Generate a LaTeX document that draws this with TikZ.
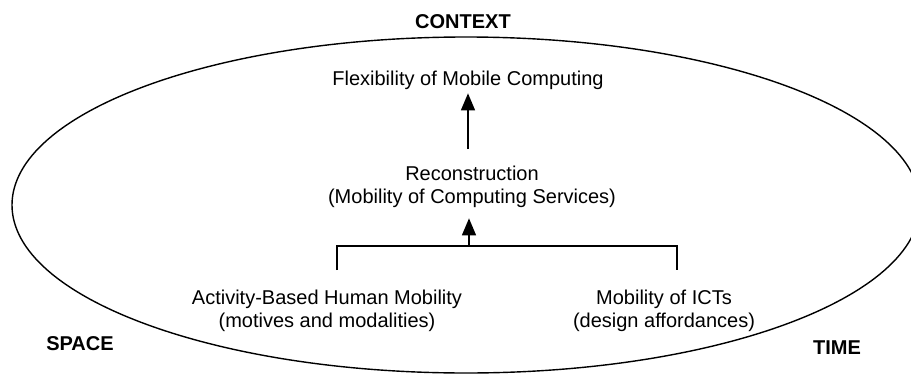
\documentclass[tikz,border=0pt]{standalone}
\usepackage{fontspec}
\setmainfont{Liberation Sans}
\usetikzlibrary{arrows.meta}
\begin{document}
\begin{tikzpicture}[x=1pt,y=-1pt,
  txt/.style={inner sep=0pt,align=center,anchor=base,font=\fontsize{20}{22.5}\selectfont},
  lbl/.style={inner sep=0pt,anchor=base,font=\fontsize{20}{22.5}\selectfont\bfseries},
  conn/.style={line width=1.4pt},
  arr/.style={conn,-{Triangle[width=14pt,length=17pt]}}]
\useasboundingbox (0,0) rectangle (911,375);
\begin{scope}
\clip (0,0) rectangle (911,375);
\draw[line width=1.4pt] (466,205) ellipse [x radius=454, y radius=168];
\end{scope}
\node[lbl] (context) at (463,28) {CONTEXT};
\node[lbl] (space) at (80,350) {SPACE};
\node[lbl] (time) at (837,354) {TIME};
\node[txt] (flex) at (468,85) {Flexibility of Mobile Computing};
\node[txt] (recon) at (472,203) {Reconstruction\\(Mobility of Computing Services)};
\node[txt] (act) at (327,327) {Activity-Based Human Mobility\\(motives and modalities)};
\node[txt] (ict) at (664,327) {Mobility of ICTs\\(design affordances)};
\coordinate (la) at (337,270);
\coordinate (ra) at (677,270);
\coordinate (lj) at (337,246);
\coordinate (rj) at (677,246);
\coordinate (mj) at (469,246);
\coordinate (ms) at (468,149);
\draw[arr,shorten >=4pt] (ms) -- (flex.south -| ms);
\draw[conn] (la) -- (lj) -- (rj) -- (ra);
\draw[arr,shorten >=11pt] (mj) -- (recon.south -| mj);
\end{tikzpicture}
\end{document}
